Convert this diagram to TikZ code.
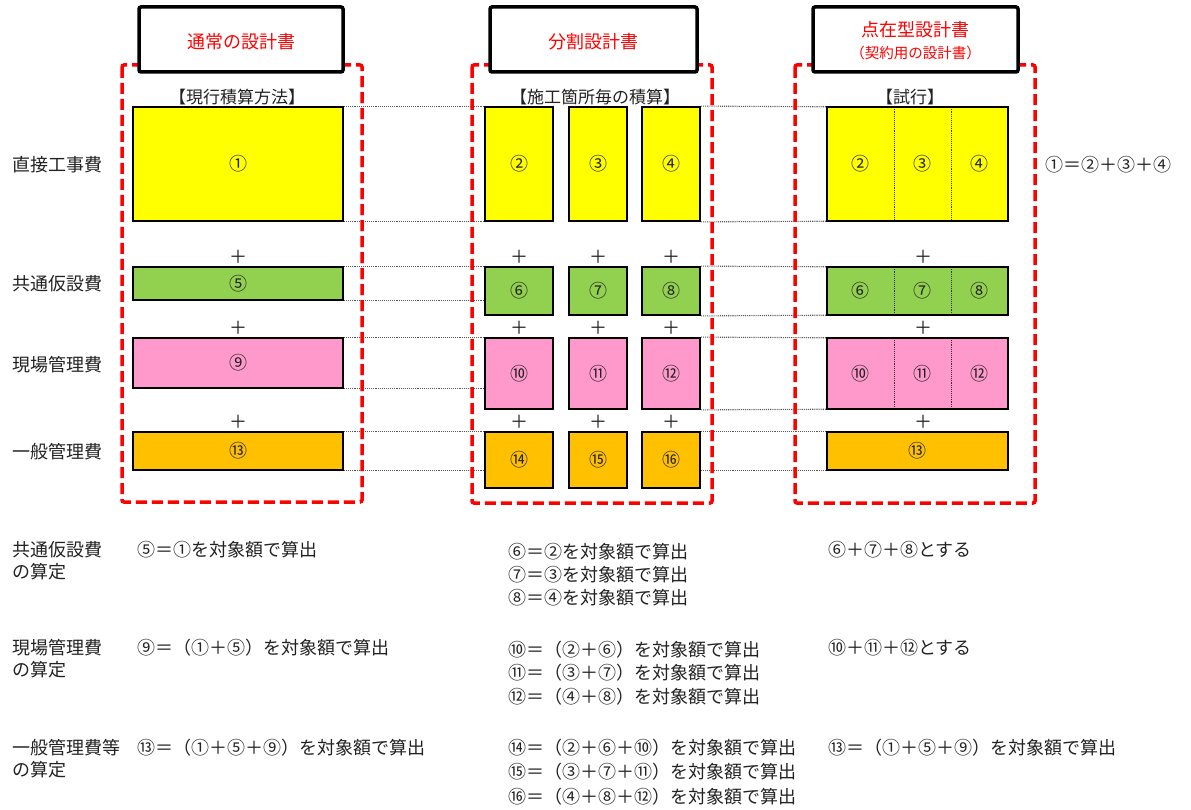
\documentclass[tikz,border=0pt]{standalone}
\usepackage{fontspec}
\setmainfont{Noto Sans CJK JP}
\definecolor{cyellow}{HTML}{FFFF00}
\definecolor{cgreen}{HTML}{92D050}
\definecolor{cpink}{HTML}{FF99CC}
\definecolor{corange}{HTML}{FFC000}
\definecolor{ctext}{HTML}{222222}
\tikzset{
  base/.style={font=\fontsize{18}{22}\selectfont, text=ctext, inner sep=0pt},
  cbox/.style={base, draw=black, line width=1.8pt},
  cell/.style={base},
  divider/.style={draw=black!80, line width=0.9pt, densely dotted},
  frame/.style={draw=black, line width=1.8pt},
  link/.style={draw=black!65, line width=1.1pt, densely dotted},
  reddash/.style={draw=red, line width=3.5pt, dash pattern=on 11pt off 5pt, rounded corners=2pt},
  header/.style={base, draw=black, line width=3.5pt, fill=white, rounded corners=2pt, text=red, minimum height=65pt},
  plus/.style={base},
  lbl/.style={base, anchor=west},
}
\begin{document}
\begin{tikzpicture}[x=1pt,y=-1pt]
\useasboundingbox (0,0) rectangle (1191,810);

% ---------- row 1 : direct cost ----------
\node[cbox,fill=cyellow,minimum width=210pt,minimum height=114pt] (n1) at (238,164) {①};
\node[cbox,fill=cyellow,minimum width=68pt,minimum height=114pt] (n2) at (519,164) {②};
\node[cbox,fill=cyellow,minimum width=58pt,minimum height=114pt] (n3) at (598,164) {③};
\node[cbox,fill=cyellow,minimum width=58pt,minimum height=114pt] (n4) at (671,164) {④};
\node[cell,fill=cyellow,minimum width=67pt,minimum height=114pt] (r2) at (860.5,164) {②};
\node[cell,fill=cyellow,minimum width=57pt,minimum height=114pt] (r3) at (922.5,164) {③};
\node[cell,fill=cyellow,minimum width=57pt,minimum height=114pt] (r4) at (979.5,164) {④};
\draw[divider] (r2.north east) -- (r2.south east);
\draw[divider] (r3.north east) -- (r3.south east);
\draw[frame] (r2.north west) rectangle (r4.south east);

% ---------- row 2 : common temporary ----------
\node[cbox,fill=cgreen,minimum width=210pt,minimum height=33pt] (n5) at (238,283.5) {⑤};
\node[cbox,fill=cgreen,minimum width=68pt,minimum height=48pt] (n6) at (519,291) {⑥};
\node[cbox,fill=cgreen,minimum width=58pt,minimum height=48pt] (n7) at (598,291) {⑦};
\node[cbox,fill=cgreen,minimum width=58pt,minimum height=48pt] (n8) at (671,291) {⑧};
\node[cell,fill=cgreen,minimum width=67pt,minimum height=48pt] (r6) at (860.5,291) {⑥};
\node[cell,fill=cgreen,minimum width=57pt,minimum height=48pt] (r7) at (922.5,291) {⑦};
\node[cell,fill=cgreen,minimum width=57pt,minimum height=48pt] (r8) at (979.5,291) {⑧};
\draw[divider] (r6.north east) -- (r6.south east);
\draw[divider] (r7.north east) -- (r7.south east);
\draw[frame] (r6.north west) rectangle (r8.south east);

% ---------- row 3 : site management ----------
\node[cbox,fill=cpink,minimum width=210pt,minimum height=50pt] (n9) at (238,363) {⑨};
\node[cbox,fill=cpink,minimum width=68pt,minimum height=71pt] (n10) at (519,373.5) {⑩};
\node[cbox,fill=cpink,minimum width=58pt,minimum height=71pt] (n11) at (598,373.5) {⑪};
\node[cbox,fill=cpink,minimum width=58pt,minimum height=71pt] (n12) at (671,373.5) {⑫};
\node[cell,fill=cpink,minimum width=67pt,minimum height=71pt] (r10) at (860.5,373.5) {⑩};
\node[cell,fill=cpink,minimum width=57pt,minimum height=71pt] (r11) at (922.5,373.5) {⑪};
\node[cell,fill=cpink,minimum width=57pt,minimum height=71pt] (r12) at (979.5,373.5) {⑫};
\draw[divider] (r10.north east) -- (r10.south east);
\draw[divider] (r11.north east) -- (r11.south east);
\draw[frame] (r10.north west) rectangle (r12.south east);

% ---------- row 4 : general management ----------
\node[cbox,fill=corange,minimum width=210pt,minimum height=38pt] (n13) at (238,451) {⑬};
\node[cbox,fill=corange,minimum width=68pt,minimum height=56pt] (n14) at (519,460) {⑭};
\node[cbox,fill=corange,minimum width=58pt,minimum height=56pt] (n15) at (598,460) {⑮};
\node[cbox,fill=corange,minimum width=58pt,minimum height=56pt] (n16) at (671,460) {⑯};
\node[cbox,fill=corange,minimum width=181pt,minimum height=38pt] (r13) at (917.5,451) {⑬};

% ---------- dotted links ----------
\draw[link] (n1.north east) -- (n2.north west);
\draw[link] (n1.south east) -- (n2.south west);
\draw[link] (n4.north east) -- (r2.north west);
\draw[link] (n4.south east) -- (r2.south west);
\draw[link] (n5.north east) -- (n6.north west);
\draw[link] (n5.south east) -- (n5.south east -| n6.west);
\draw[link] (n8.north east) -- (r6.north west);
\draw[link] (n8.south east) -- (r6.south west);
\draw[link] (n9.north east) -- (n10.north west);
\draw[link] (n9.south east) -- (n9.south east -| n10.west);
\draw[link] (n12.north east) -- (r10.north west);
\draw[link] (n12.south east) -- (r10.south west);
\draw[link] (n13.north east) -- (n14.north west);
\draw[link] (n13.south east) -- (n13.south east -| n14.west);
\draw[link] (n16.north east) -- (r13.north west);
\draw[link] (r13.south west -| n16.east) -- (r13.south west);

% ---------- plus signs ----------
\foreach \px/\nm in {238/a,519/b,598/c,671/d,923/e}{
  \node[plus] (p2\nm) at (\px,257) {＋};
  \node[plus] (p3\nm) at (\px,328) {＋};
  \node[plus] (p4\nm) at (\px,422) {＋};
}

% ---------- red dashed frames ----------
\draw[reddash] (122,65) rectangle (362,502);
\draw[reddash] (472,65) rectangle (712,503);
\draw[reddash] (795,65) rectangle (1035,503);

% ---------- headers ----------
\node[header,minimum width=204pt] (h1) at (241,39.5) {};
\node[base,text=red] (h1t) at (241,42) {通常の設計書};
\node[header,minimum width=207pt] (h2) at (593.5,39.5) {};
\node[base,text=red] (h2t) at (593.5,42) {分割設計書};
\node[header,minimum width=205pt] (h3) at (915.5,39.5) {};
\node[base,text=red] (h3t) at (915.5,30) {点在型設計書};
\node[base,text=red,font=\fontsize{14.5}{18}\selectfont] (h3s) at (915.5,53) {（契約用の設計書）};

% ---------- subtitles ----------
\node[base,font=\fontsize{17}{20}\selectfont] (s1) at (237,97) {【現行積算方法】};
\node[base,font=\fontsize{17}{20}\selectfont] (s2) at (595,97) {【施工箇所毎の積算】};
\node[base,font=\fontsize{17}{20}\selectfont] (s3) at (910,97) {【試行】};

% ---------- row labels ----------
\node[lbl] (l1) at (12,165) {直接工事費};
\node[lbl] (l2) at (12,284) {共通仮設費};
\node[lbl] (l3) at (12,365) {現場管理費};
\node[lbl] (l4) at (12,452) {一般管理費};
\node[lbl] (eq) at (1045,165) {①＝②＋③＋④};

% ---------- bottom explanations ----------
\node[lbl] (b1a) at (12,550) {共通仮設費};
\node[lbl] (b1b) at (12,572) {の算定};
\node[lbl] (b1c) at (137,550) {⑤＝①を対象額で算出};
\node[lbl] (b1d) at (508,552) {⑥＝②を対象額で算出};
\node[lbl] (b1e) at (508,575) {⑦＝③を対象額で算出};
\node[lbl] (b1f) at (508,598) {⑧＝④を対象額で算出};
\node[lbl] (b1g) at (828,550) {⑥＋⑦＋⑧とする};

\node[lbl] (b2a) at (12,648) {現場管理費};
\node[lbl] (b2b) at (12,670) {の算定};
\node[lbl] (b2c) at (137,648) {⑨＝（①＋⑤）を対象額で算出};
\node[lbl] (b2d) at (508,650) {⑩＝（②＋⑥）を対象額で算出};
\node[lbl] (b2e) at (508,673) {⑪＝（③＋⑦）を対象額で算出};
\node[lbl] (b2f) at (508,697) {⑫＝（④＋⑧）を対象額で算出};
\node[lbl] (b2g) at (828,648) {⑩＋⑪＋⑫とする};

\node[lbl] (b3a) at (12,748) {一般管理費等};
\node[lbl] (b3b) at (12,770) {の算定};
\node[lbl] (b3c) at (137,748) {⑬＝（①＋⑤＋⑨）を対象額で算出};
\node[lbl] (b3d) at (508,748) {⑭＝（②＋⑥＋⑩）を対象額で算出};
\node[lbl] (b3e) at (508,772) {⑮＝（③＋⑦＋⑪）を対象額で算出};
\node[lbl] (b3f) at (508,797) {⑯＝（④＋⑧＋⑫）を対象額で算出};
\node[lbl] (b3g) at (828,748) {⑬＝（①＋⑤＋⑨）を対象額で算出};
\end{tikzpicture}
\end{document}
